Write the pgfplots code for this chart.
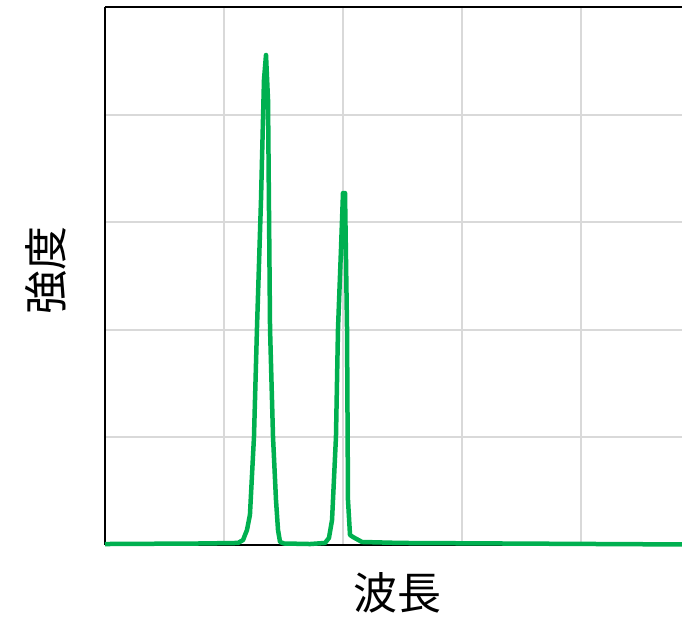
\documentclass[border=0pt]{standalone}
\usepackage{pgfplots}
\pgfplotsset{compat=1.18}
\usepackage{fontspec}
\newfontfamily\cjk{Noto Sans CJK JP}
\definecolor{exgreen}{HTML}{00B050}
\definecolor{gridgray}{HTML}{D9D9D9}
\begin{document}
\begin{tikzpicture}
\path[use as bounding box] (-105pt,-72pt) rectangle (577pt,545pt);
\begin{axis}[
  scale only axis,
  width=577pt, height=538pt,
  xmin=0, xmax=4.849, ymin=0, ymax=5,
  axis x line*=box, axis y line*=left,
  axis line style={black, line width=2.5pt},
  xtick={1,2,3,4}, ytick={1,2,3,4},
  xticklabels={}, yticklabels={},
  major tick length=0pt,
  grid=major,
  major grid style={gridgray, line width=2pt},
  clip=false,
  xlabel={\cjk\fontsize{44}{50}\selectfont 波長},
  ylabel={\cjk\fontsize{44}{50}\selectfont 強度},
  xlabel style={at={(rel axis cs:0.507,0)}, anchor=center, yshift=-48pt},
  ylabel style={at={(rel axis cs:0,0.511)}, anchor=center, yshift=59pt},
]
\addplot[exgreen, line width=4.5pt, line join=round] coordinates {
(0,0.009) (0.798,0.014) (1.118,0.019) (1.160,0.046) (1.193,0.139) (1.218,0.279)
(1.252,1.004) (1.277,2.007) (1.311,3.206) (1.336,4.322) (1.353,4.554)
(1.370,4.136) (1.387,2.007) (1.412,1.004) (1.437,0.418) (1.454,0.139)
(1.471,0.028) (1.504,0.014) (1.723,0.009) (1.849,0.019) (1.882,0.065)
(1.908,0.232) (1.941,1.004) (1.958,2.007) (1.983,2.742) (2.000,3.271)
(2.017,3.271) (2.034,2.007) (2.042,0.418) (2.059,0.093) (2.084,0.074)
(2.160,0.028) (2.479,0.019) (4.849,0.005)
};
\end{axis}
\end{tikzpicture}
\end{document}
